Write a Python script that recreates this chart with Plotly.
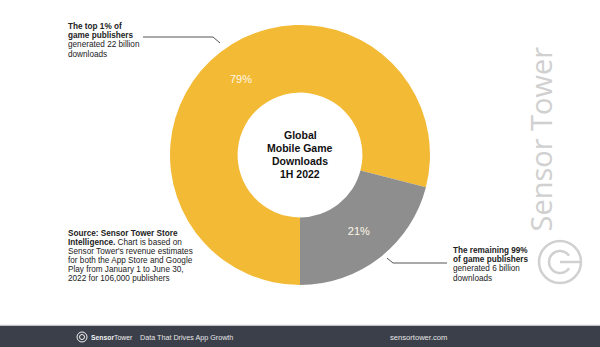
import numpy as np
import plotly.graph_objects as go

# Download share by publisher group, 1H 2022
segments = ["The top 1% of game publishers", "The remaining 99% of game publishers"]
shares = [79, 21]
downloads_billion = [22, 6]
segment_colors = ["#F3BA35", "#8E8E8E"]

center_title = ["Global", "Mobile Game", "Downloads", "1H 2022"]
top_callout = ["<b>The top 1% of</b>", "<b>game publishers</b>",
               f"generated {downloads_billion[0]} billion", "downloads"]
bottom_callout = ["<b>The remaining 99%</b>", "<b>of game publishers</b>",
                  f"generated {downloads_billion[1]} billion", "downloads"]
source_lines = ["<b>Source: Sensor Tower Store</b>",
                "<b>Intelligence.</b> Chart is based on",
                "Sensor Tower's revenue estimates",
                "for both the App Store and Google",
                "Play from January 1 to June 30,",
                "2022 for 106,000 publishers"]
footer_tagline = "Data That Drives App Growth"
footer_site = "sensortower.com"
watermark = "Sensor Tower"

W, H = 600, 347
FONT = "Liberation Sans, Arial, sans-serif"


def px(x):
    return x / W


def py(y):
    return 1 - y / H


fig = go.Figure()

fig.add_trace(go.Pie(
    labels=segments,
    values=shares,
    hole=0.48,
    sort=False,
    direction="clockwise",
    rotation=180,
    marker=dict(colors=segment_colors, line=dict(width=0)),
    texttemplate="%{value}%",
    textposition="inside",
    insidetextorientation="horizontal",
    textfont=dict(family=FONT, size=11, color="#FFF8EA"),
    domain=dict(x=[px(170), px(430)], y=[py(285), py(25)]),
    showlegend=False,
    hoverinfo="label+percent",
))

annotations = []


def text_block(lines, x, y_first, step, size, color="#222222", anchor="left", bold=False):
    for i, line in enumerate(lines):
        annotations.append(dict(
            x=px(x), y=py(y_first + i * step), xref="paper", yref="paper",
            xanchor=anchor, yanchor="middle",
            text=f"<b>{line}</b>" if bold else line,
            showarrow=False,
            font=dict(family=FONT, size=size, color=color),
        ))


text_block(center_title, 300, 135, 13, 10.5, color="#111111", anchor="center", bold=True)
text_block(top_callout, 66, 26.5, 9.2, 8.2)
text_block(bottom_callout, 451, 250.5, 9.2, 8.2)
text_block(source_lines, 66, 233, 9.1, 8.2)

# vertical watermark
annotations.append(dict(
    x=px(562), y=py(139), xref="paper", yref="paper",
    text=watermark, textangle=-90, showarrow=False,
    font=dict(family="Open Sans, Liberation Sans, sans-serif", size=29, color="#D0D0D0"),
))

# footer texts
annotations.append(dict(
    x=px(89), y=py(337), xref="paper", yref="paper", xanchor="left", yanchor="middle",
    text="<b>Sensor</b>Tower", showarrow=False,
    font=dict(family=FONT, size=6.8, color="#F2F2F2"),
))
annotations.append(dict(
    x=px(138), y=py(337), xref="paper", yref="paper", xanchor="left", yanchor="middle",
    text=footer_tagline, showarrow=False,
    font=dict(family=FONT, size=7.2, color="#E6E6E6"),
))
annotations.append(dict(
    x=px(449), y=py(337), xref="paper", yref="paper", xanchor="right", yanchor="middle",
    text=footer_site, showarrow=False,
    font=dict(family=FONT, size=7.6, color="#E6E6E6"),
))


def poly_path(points):
    return "M" + " L".join(f"{px(x):.5f},{py(y):.5f}" for x, y in points)


def arc_points(cx, cy, r, a0, a1, n=40):
    ang = np.radians(np.linspace(a0, a1, n))
    return [(cx + r * np.cos(a), cy - r * np.sin(a)) for a in ang]


shapes = []

# footer bar
shapes.append(dict(type="rect", xref="paper", yref="paper",
                   x0=0, x1=1, y0=0, y1=py(325.5), fillcolor="#3A3F4A",
                   line=dict(width=0), layer="below"))
shapes.append(dict(type="line", xref="paper", yref="paper",
                   x0=0, x1=1, y0=py(325), y1=py(325),
                   line=dict(color="#E4E4E4", width=1.2)))

# leader lines
shapes.append(dict(type="path", xref="paper", yref="paper",
                   path=poly_path([(143, 37), (213, 37), (220, 43)]),
                   line=dict(color="#555555", width=1)))
shapes.append(dict(type="path", xref="paper", yref="paper",
                   path=poly_path([(447, 263), (393, 263), (387, 258)]),
                   line=dict(color="#555555", width=1)))

# watermark logo
shapes.append(dict(type="circle", xref="paper", yref="paper",
                   x0=px(539), x1=px(581), y0=py(241), y1=py(283),
                   line=dict(color="#D0D0D0", width=2.5)))
shapes.append(dict(type="path", xref="paper", yref="paper",
                   path=poly_path(arc_points(560, 262, 11, 35, 325)),
                   line=dict(color="#D0D0D0", width=2.5)))
shapes.append(dict(type="path", xref="paper", yref="paper",
                   path=poly_path([(560, 262), (581, 262)]),
                   line=dict(color="#D0D0D0", width=2.5)))

# footer logo
shapes.append(dict(type="circle", xref="paper", yref="paper",
                   x0=px(77), x1=px(87), y0=py(332), y1=py(342),
                   line=dict(color="#F2F2F2", width=1)))
shapes.append(dict(type="circle", xref="paper", yref="paper",
                   x0=px(79.5), x1=px(84.5), y0=py(334.5), y1=py(339.5),
                   line=dict(color="#F2F2F2", width=1)))

fig.update_layout(
    width=W, height=H,
    margin=dict(l=0, r=0, t=0, b=0),
    paper_bgcolor="white", plot_bgcolor="white",
    annotations=annotations,
    shapes=shapes,
)

fig.write_html("out.html")
